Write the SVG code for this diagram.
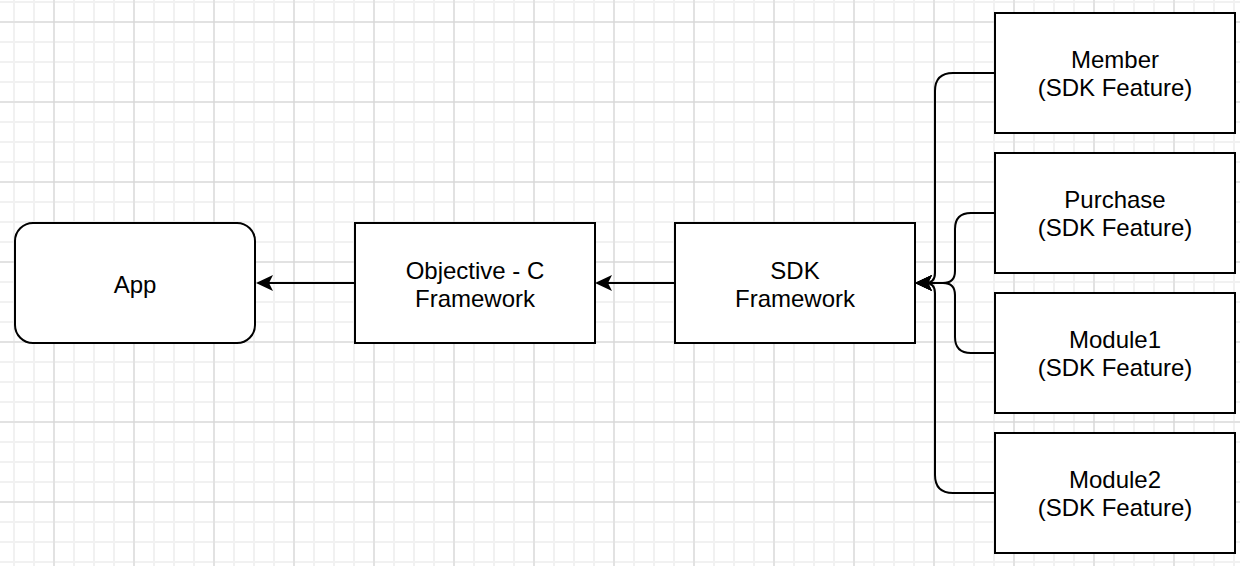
<svg xmlns="http://www.w3.org/2000/svg" width="1240" height="566" viewBox="0 0 1240 566">
  <style>
    .box { fill: #ffffff; stroke: #000000; stroke-width: 2; }
    .lbl { font-family: "Liberation Sans", Arial, Helvetica, sans-serif; font-size: 24px; fill: #000000; text-anchor: middle; }
    .edge { fill: none; stroke: #000000; stroke-width: 2; }
  </style>
  <defs>
    <pattern id="gridMinor" patternUnits="userSpaceOnUse" x="4" y="-8" width="20" height="20">
      <path d="M10,0 V20 M0,10 H20" stroke="#f1f1f1" stroke-width="2" fill="none"/>
    </pattern>
    <pattern id="gridMajor" patternUnits="userSpaceOnUse" x="14" y="-18" width="80" height="80">
      <path d="M40,0 V80 M0,40 H80" stroke="#d3d3d3" stroke-width="1" fill="none"/>
    </pattern>
    <marker id="arrow" markerUnits="userSpaceOnUse" viewBox="0 0 17 16" refX="11" refY="8" markerWidth="17" markerHeight="16" orient="auto">
      <path d="M0,0 L17,8 L0,16 L4,8 Z" fill="#000000"/>
    </marker>
  </defs>

  <rect width="1240" height="566" fill="#ffffff"/>
  <rect width="1240" height="566" fill="url(#gridMinor)"/>
  <rect width="1240" height="566" fill="url(#gridMajor)"/>

  <g id="connectors">
    <path class="edge" d="M355,283 H262" marker-end="url(#arrow)"/>
    <path class="edge" d="M675,283 H601" marker-end="url(#arrow)"/>
    <path class="edge" d="M995,73 H953 Q935,73 935,91 V273 Q935,283 925,283 H921" marker-end="url(#arrow)"/>
    <path class="edge" d="M995,213 H971 Q955,213 955,229 V271 Q955,283 943,283 H921" marker-end="url(#arrow)"/>
    <path class="edge" d="M995,353 H971 Q955,353 955,337 V295 Q955,283 943,283 H921" marker-end="url(#arrow)"/>
    <path class="edge" d="M995,493 H953 Q935,493 935,475 V293 Q935,283 925,283 H921" marker-end="url(#arrow)"/>
  </g>

  <g id="app">
    <rect class="box" x="15" y="223" width="240" height="120" rx="18" ry="18"/>
    <text class="lbl" x="135" y="293">App</text>
  </g>
  <g id="objc">
    <rect class="box" x="355" y="223" width="240" height="120"/>
    <text class="lbl" x="475" y="279">Objective - C</text>
    <text class="lbl" x="475" y="307">Framework</text>
  </g>
  <g id="sdk">
    <rect class="box" x="675" y="223" width="240" height="120"/>
    <text class="lbl" x="795" y="279">SDK</text>
    <text class="lbl" x="795" y="307">Framework</text>
  </g>
  <g id="member">
    <rect class="box" x="995" y="13" width="240" height="120"/>
    <text class="lbl" x="1115" y="68">Member</text>
    <text class="lbl" x="1115" y="96">(SDK Feature)</text>
  </g>
  <g id="purchase">
    <rect class="box" x="995" y="153" width="240" height="120"/>
    <text class="lbl" x="1115" y="208">Purchase</text>
    <text class="lbl" x="1115" y="236">(SDK Feature)</text>
  </g>
  <g id="module1">
    <rect class="box" x="995" y="293" width="240" height="120"/>
    <text class="lbl" x="1115" y="348">Module1</text>
    <text class="lbl" x="1115" y="376">(SDK Feature)</text>
  </g>
  <g id="module2">
    <rect class="box" x="995" y="433" width="240" height="120"/>
    <text class="lbl" x="1115" y="488">Module2</text>
    <text class="lbl" x="1115" y="516">(SDK Feature)</text>
  </g>
</svg>
